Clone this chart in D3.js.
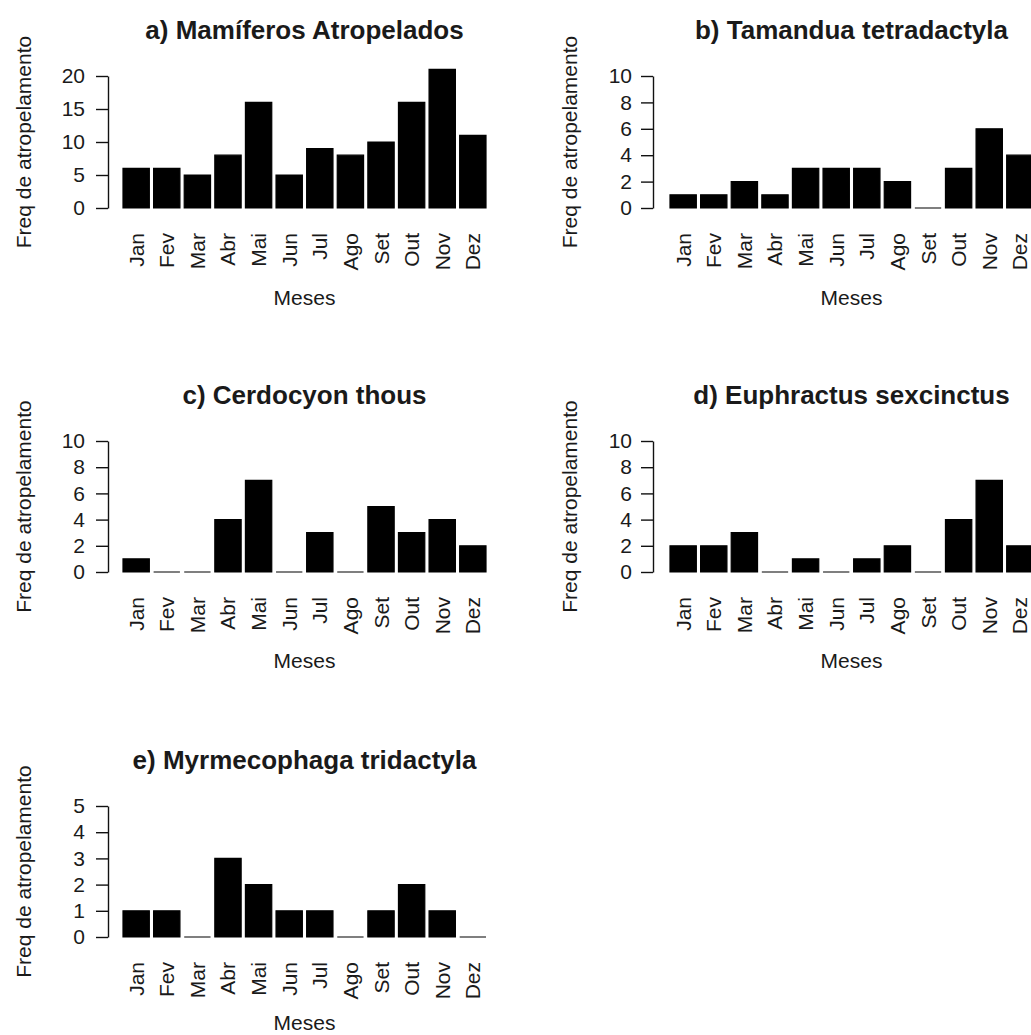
<!DOCTYPE html>
<html>
<head>
<meta charset="utf-8">
<script src="https://cdn.jsdelivr.net/npm/d3@7"></script>
<style>
  html, body { margin: 0; padding: 0; background: #fff; }
  svg { display: block; }
  text { font-family: "Liberation Sans", Arial, sans-serif; fill: #1a1a1a; }
</style>
</head>
<body>
<svg id="chart" width="1031" height="1035"></svg>
<script>
// Road-kill counts per month
const months = ["Jan","Fev","Mar","Abr","Mai","Jun","Jul","Ago","Set","Out","Nov","Dez"];

const mamiferos    = [6, 6, 5, 8, 16, 5, 9, 8, 10, 16, 21, 11];
const tamandua     = [1, 1, 2, 1, 3, 3, 3, 2, 0, 3, 6, 4];
const cerdocyon    = [1, 0, 0, 4, 7, 0, 3, 0, 5, 3, 4, 2];
const euphractus   = [2, 2, 3, 0, 1, 0, 1, 2, 0, 4, 7, 2];
const myrmecophaga = [1, 1, 0, 3, 2, 1, 1, 0, 1, 2, 1, 0];

const ticksA   = [0, 5, 10, 15, 20];
const ticks10  = [0, 2, 4, 6, 8, 10];
const ticks5   = [0, 1, 2, 3, 4, 5];

const titles = [
  "a) Mamíferos Atropelados",
  "b) Tamandua tetradactyla",
  "c) Cerdocyon thous",
  "d) Euphractus sexcinctus",
  "e) Myrmecophaga tridactyla"
];
const yLabel = "Freq de atropelamento";
const xLabel = "Meses";

// panel layout: column (axis x, bar extent) and row (top tick, baseline, x-title offset)
const cols = [
  { axisX: 108, x0: 123, x1: 486, ylab: 23, pad: 11 },
  { axisX: 653, x0: 670, x1: 1033, ylab: 569, pad: 9 }
];
const rows = [
  { top: 76,  base: 208, xlab: 97 },
  { top: 441, base: 572, xlab: 96 },
  { top: 806, base: 937, xlab: 93 }
];

const panels = [
  { values: mamiferos,    ticks: ticksA,  title: titles[0], col: 0, row: 0 },
  { values: tamandua,     ticks: ticks10, title: titles[1], col: 1, row: 0 },
  { values: cerdocyon,    ticks: ticks10, title: titles[2], col: 0, row: 1 },
  { values: euphractus,   ticks: ticks10, title: titles[3], col: 1, row: 1 },
  { values: myrmecophaga, ticks: ticks5,  title: titles[4], col: 0, row: 2 }
];

const svg = d3.select("#chart");

panels.forEach(p => {
  const c = cols[p.col], r = rows[p.row];
  const g = svg.append("g");

  const x = d3.scaleBand().domain(months).range([c.x0, c.x1])
    .paddingInner(0.14).paddingOuter(0);
  const y = d3.scaleLinear().domain([0, d3.max(p.ticks)]).range([r.base, r.top]);

  // bars (paths so zero-count months still show as a flat line)
  g.selectAll("path.bar").data(p.values).join("path")
    .attr("class", "bar")
    .attr("d", (v, i) => {
      const bx = x(months[i]), bw = x.bandwidth();
      return `M${bx},${y(0)}H${bx + bw}V${y(v)}H${bx}Z`;
    })
    .attr("fill", "#000").attr("stroke", "#000").attr("stroke-width", 1.2);

  // y axis
  const ax = g.append("g").attr("transform", `translate(${c.axisX},0)`)
    .call(d3.axisLeft(y).tickValues(p.ticks).tickSize(12).tickSizeOuter(0)
      .tickPadding(c.pad).tickFormat(d3.format("d")));
  ax.selectAll("path, line").attr("stroke", "#111").attr("stroke-width", 1.4);
  ax.selectAll("text").style("font-size", "21px").attr("fill", "#1a1a1a")
    .style("font-family", "'Liberation Sans', Arial, sans-serif");

  // month labels, vertical
  g.selectAll("text.month").data(months).join("text")
    .attr("class", "month")
    .attr("transform", m => `translate(${x(m) + x.bandwidth() / 2},${r.base + 25}) rotate(-90)`)
    .attr("text-anchor", "end")
    .attr("dominant-baseline", "central")
    .style("font-size", "21px")
    .text(m => m);

  const cx = (c.x0 + c.x1) / 2;

  // title
  g.append("text")
    .attr("x", cx).attr("y", r.top - 37)
    .attr("text-anchor", "middle")
    .style("font-size", "26px").style("font-weight", "bold")
    .text(p.title);

  // axis titles
  g.append("text")
    .attr("x", cx).attr("y", r.base + r.xlab)
    .attr("text-anchor", "middle")
    .style("font-size", "21px")
    .text(xLabel);

  g.append("text")
    .attr("transform", `translate(${c.ylab},${(r.top + r.base) / 2}) rotate(-90)`)
    .attr("text-anchor", "middle")
    .attr("dominant-baseline", "central")
    .style("font-size", "21px")
    .text(yLabel);
});
</script>
</body>
</html>
